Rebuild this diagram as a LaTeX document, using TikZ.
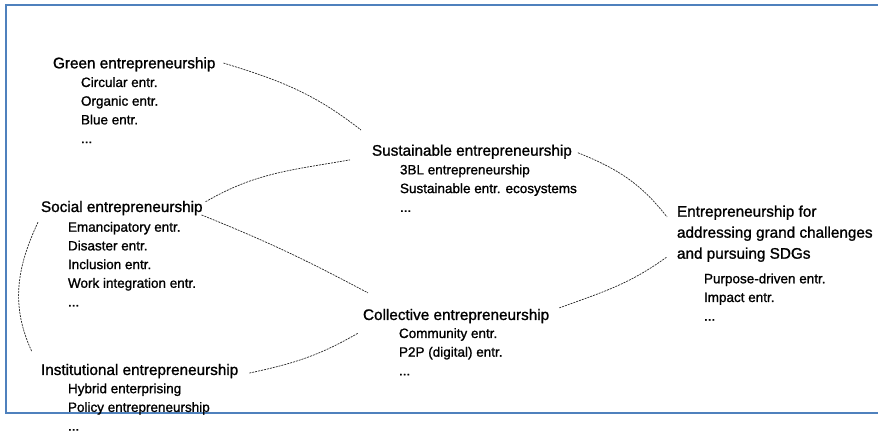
\documentclass[tikz,border=0pt]{standalone}
\usepackage{fontspec}
\setmainfont{Liberation Sans}[FakeBold=1.2]
\definecolor{frameblue}{RGB}{79,129,189}
\tikzset{
  head/.style={anchor=base west,inner sep=0pt,outer sep=0pt,font=\fontsize{15.3}{21}\selectfont,align=left},
  items/.style={anchor=north west,inner sep=0pt,outer sep=0pt,font=\fontsize{13.5}{18.7}\selectfont,align=left},
  link/.style={draw=black!85,line width=0.7pt,dash pattern=on 2pt off 1pt}
}
\begin{document}
\begin{tikzpicture}[x=1pt,y=1pt]
      \useasboundingbox (0,0) rectangle (878,431);
      \draw[frameblue,line width=2pt] (6,426) rectangle (886,18);
      \node[head] (green) at (53,362.7) {Green entrepreneurship};
      \node[items] (greenlist) at (81,353.8) {Circular entr.\\Organic entr.\\Blue entr.\\...};
      \node[head] (social) at (41,219) {Social entrepreneurship};
      \node[items] (sociallist) at (68,209.1) {Emancipatory entr.\\Disaster entr.\\Inclusion entr.\\Work integration entr.\\...};
      \node[head] (inst) at (41,56) {Institutional entrepreneurship};
      \node[items] (instlist) at (68,47.6) {Hybrid enterprising\\Policy entrepreneurship\\...};
      \node[head] (sust) at (372,275.3) {Sustainable entrepreneurship};
      \node[items] (sustlist) at (400,266.4) {3BL entrepreneurship\\Sustainable entr. ecosystems\\...};
      \node[head] (coll) at (363,111) {Collective entrepreneurship};
      \node[items] (colllist) at (399,102.8) {Community entr.\\P2P (digital) entr.\\...};
      \node[head,anchor=north west] (grand) at (677,225.4) {Entrepreneurship for\\addressing grand challenges\\and pursuing SDGs};
      \node[items] (grandlist) at (704,157.5) {Purpose-driven entr.\\Impact entr.\\...};
      \begin{scope}[link]
        \draw ([shift={(8,1.3)}]green.east) to[out=-17,in=142] ([shift={(-11,14.6)}]sust.north west);
        \draw ([shift={(3,-0.8)}]social.north east) to[out=30,in=190] ([shift={(-22,-1)}]sust.south west);
        \draw ([shift={(-1,0.2)}]social.south east) to[out=-22,in=152] ([shift={(5,16)}]coll.north west);
        \draw ([shift={(11,-2)}]inst.east) to[out=12,in=210] ([shift={(-5,-10)}]coll.south west);
        \draw ([shift={(-3,-7)}]social.south west) to[out=245,in=115] ([shift={(-9,12)}]inst.north west);
        \draw ([shift={(6,-1)}]sust.east) to[out=-22,in=128] ([shift={(-10,-11.4)}]grand.north west);
        \draw ([shift={(10,1)}]coll.north east) to[out=20,in=216] ([shift={(-10,5)}]grand.south west);
      \end{scope}
    \end{tikzpicture}
\end{document}
